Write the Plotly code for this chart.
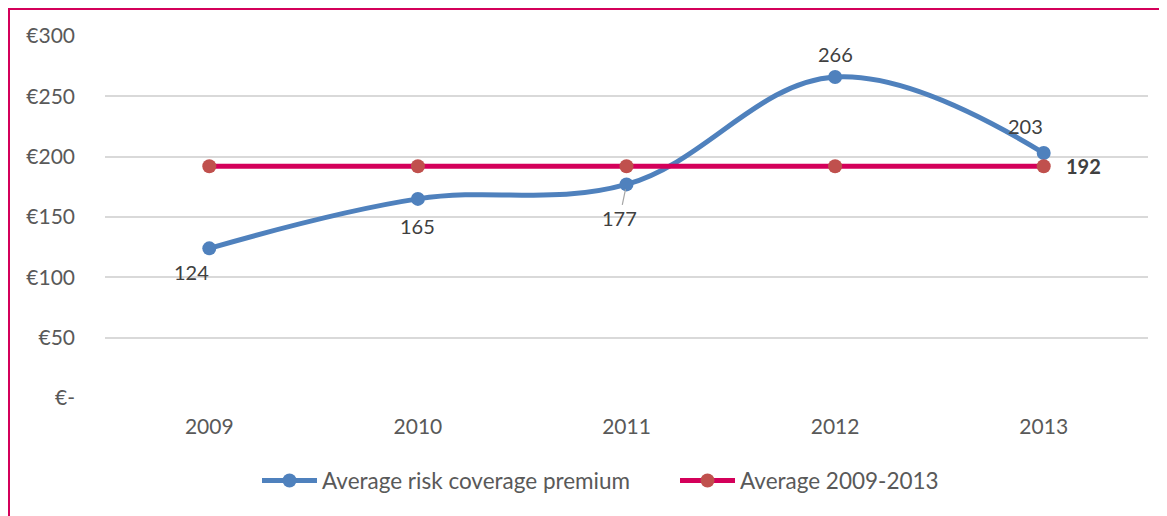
import plotly.graph_objects as go

years = ["2009", "2010", "2011", "2012", "2013"]
premium = [124, 165, 177, 266, 203]
average = [192, 192, 192, 192, 192]
y_tickvals = [0, 50, 100, 150, 200, 250, 300]
y_ticktext = ["€-", "€50", "€100", "€150", "€200", "€250", "€300"]
series_names = ["Average risk coverage premium", "Average 2009-2013"]

# label offsets (pixels) for each premium point: (ax, ay, show leader)
label_offsets = [(-18, 24, False), (0, 27, False), (-7, 34, True), (0, -23, False), (-18, -27, False)]

FONT = "Lato"
BLUE = "#4f81bd"
RED_LINE = "#d4005a"
RED_MARK = "#c0504d"

L, R, T, B = 97, 27, 28, 126
PW, PH = 1167 - L - R, 516 - T - B

fig = go.Figure()
fig.add_trace(go.Scatter(
    x=years, y=premium, name=series_names[0], mode="lines+markers",
    line=dict(color=BLUE, width=5, shape="spline", smoothing=1.1),
    marker=dict(color=BLUE, size=14),
))
fig.add_trace(go.Scatter(
    x=years, y=average, name=series_names[1], mode="lines+markers",
    line=dict(color=RED_LINE, width=5),
    marker=dict(color=RED_MARK, size=14),
))

annotations = []
for i, (v, (ax, ay, lead)) in enumerate(zip(premium, label_offsets)):
    annotations.append(dict(
        x=i, y=v, xref="x", yref="y", text=str(v),
        showarrow=True, ax=ax, ay=ay, axref="pixel", ayref="pixel",
        arrowhead=0, arrowwidth=1.2,
        arrowcolor="#a6a6a6" if lead else "rgba(0,0,0,0)",
        standoff=5 if lead else 0,
        font=dict(family=FONT, size=20, color="#404040"),
    ))
annotations.append(dict(
    x=len(years) - 1, y=average[-1], xref="x", yref="y", text="<b>%d</b>" % average[-1],
    showarrow=False, xshift=40, yshift=0,
    font=dict(family=FONT, size=20, color="#404040"),
))

fig.update_layout(
    width=1167, height=516,
    margin=dict(l=L, r=R, t=T, b=B, autoexpand=False),
    paper_bgcolor="white", plot_bgcolor="white",
    font=dict(family=FONT, size=21, color="#595959"),
    showlegend=True,
    legend=dict(orientation="h", x=(249 - L) / PW, xanchor="left", y=-0.229, yanchor="middle",
                itemwidth=55, entrywidth=348, entrywidthmode="pixels",
                font=dict(family=FONT, size=22.5, color="#595959")),
    annotations=annotations,
    xaxis=dict(type="category", range=[-0.5, 4.5], showgrid=False, showline=False,
               ticks="", ticklabelstandoff=14, tickfont=dict(size=21, color="#595959")),
    yaxis=dict(range=[0, 300], tickvals=y_tickvals, ticktext=y_ticktext,
               showgrid=True, gridcolor="#d9d9d9", gridwidth=1.5, zeroline=False,
               showline=False, ticks="", ticklabelstandoff=29,
               tickfont=dict(size=21, color="#595959")),
    shapes=[dict(type="rect", xref="paper", yref="paper",
                 x0=(1 - L) / PW, x1=1.2, y0=-0.6, y1=(T + PH - 1) / PH,
                 line=dict(color=RED_LINE, width=2), fillcolor="rgba(0,0,0,0)", layer="below")],
)

fig.write_html("out.html")
